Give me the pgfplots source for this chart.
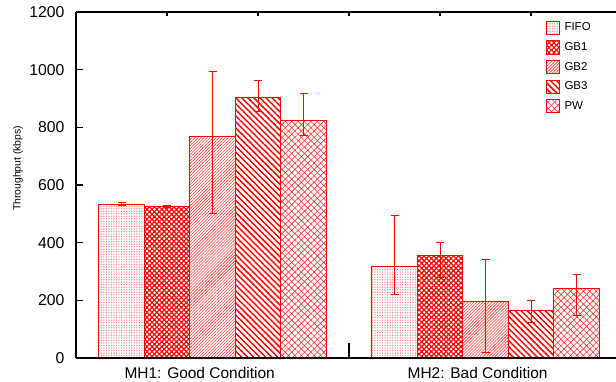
\documentclass[border=0pt]{standalone}
\usepackage{fontspec}
\setmainfont{Liberation Sans}
\usepackage{pgfplots}
\usepackage{pgfplotstable}
\pgfplotsset{compat=1.18}
\usetikzlibrary{patterns.meta}

\pgfplotstableread{
x y ep em
-0.33333 532 6 4
0.66667 317 176 98
}\fifo
\pgfplotstableread{
x y ep em
-0.16667 526 3 3
0.83333 356 46 78
}\gbone
\pgfplotstableread{
x y ep em
0 769 226 267
1 197 144 178
}\gbtwo
\pgfplotstableread{
x y ep em
0.16667 902 60 48
1.16667 165 34 41
}\gbthree
\pgfplotstableread{
x y ep em
0.33333 824 94 52
1.33333 240 51 93
}\pw

\begin{document}
\begin{tikzpicture}
\begin{axis}[
  name=main,
  scale only axis, width=405pt, height=259.5pt,
  xmin=-0.5, xmax=1.478, ymin=0, ymax=1200,
  axis x line=bottom, axis y line=left,
  axis line style={line width=0.8pt,-},
  tick align=inside,
  major tick length=5pt,
  xtick={-0.047,0.971},
  xticklabels={MH1: Good Condition, MH2: Bad Condition},
  x tick style={draw=none},
  ytick={0,200,...,1200},
  y tick style={line width=0.8pt, black},
  /pgf/number format/assume math mode=true,
  /pgf/number format/1000 sep={},
  yticklabel style={font=\fontsize{11.8}{14}\selectfont, inner sep=0pt, anchor=east, xshift=-8.5pt},
  xticklabel style={font=\fontsize{11.6}{14}\selectfont, inner sep=0pt, anchor=base, yshift=-15.3pt},
  ylabel={Throughput (kbps)},
  every axis y label/.style={at={(rel axis cs:0,0.548)}, xshift=-43.5pt, rotate=90, anchor=center, font=\fontsize{7.8}{9}\selectfont},
  legend image code/.code={\draw[#1] (0pt,-4.9pt) rectangle (9.8pt,4.9pt);},
  legend style={at={(rel axis cs:0.872,1)}, anchor=north west, xshift=-1pt, yshift=-6.5pt,
    draw=none, fill=none, inner sep=0pt, row sep=4.1pt, column sep=2.5pt,
    nodes={inner sep=1pt}, font=\fontsize{8.6}{10}\selectfont},
  legend cell align=left,
  every axis plot/.append style={ybar, bar width=0.16667, bar shift=0, draw=red, line width=0.75pt},
  error bars/y dir=both, error bars/y explicit,
  error bars/error bar style={red, line width=0.75pt},
  error bars/error mark options={rotate=90, mark size=3pt, red, line width=0.75pt},
]
\addplot[draw=red, pattern={Dots[distance=1.9pt, radius=0.5pt]}, pattern color=red!55]
  table[x=x, y=y, y error plus=ep, y error minus=em]{\fifo};
\addlegendentry{FIFO}
\addplot[draw=red, pattern={Hatch[angle=45, distance=2.6pt, line width=0.9pt]}, pattern color=red]
  table[x=x, y=y, y error plus=ep, y error minus=em]{\gbone};
\addlegendentry{GB1}
\addplot[draw=red, pattern={Lines[angle=45, distance=1.6pt, line width=0.45pt]}, pattern color=red!75]
  table[x=x, y=y, y error plus=ep, y error minus=em]{\gbtwo};
\addlegendentry{GB2}
\addplot[draw=red, pattern={Lines[angle=-45, distance=3.2pt, line width=1.1pt]}, pattern color=red]
  table[x=x, y=y, y error plus=ep, y error minus=em]{\gbthree};
\addlegendentry{GB3}
\addplot[draw=red, pattern={Hatch[angle=45, distance=3.4pt, line width=0.45pt]}, pattern color=red!80]
  table[x=x, y=y, y error plus=ep, y error minus=em]{\pw};
\addlegendentry{PW}
\end{axis}
\begin{axis}[
  at={(main.south west)}, anchor=south west,
  scale only axis, width=405pt, height=259.5pt,
  xmin=-0.5, xmax=1.478, ymin=0, ymax=1200,
  axis x line=top, axis y line=none,
  axis line style={line width=0.8pt,-},
  tick align=inside,
  major tick length=3pt,
  xtick={-0.16667,0.16667,0.5,0.83333,1.16667},
  xticklabels={},
  x tick style={line width=0.8pt, black},
  ytick=\empty,
]
\end{axis}
\begin{axis}[
  at={(main.south west)}, anchor=south west,
  scale only axis, width=405pt, height=259.5pt,
  xmin=-0.5, xmax=1.478, ymin=0, ymax=1200,
  axis x line=bottom, axis y line=none,
  axis line style={line width=0.8pt,-},
  tick align=inside,
  major tick length=11.5pt,
  xtick={0.5},
  xticklabels={},
  x tick style={line width=0.8pt, black},
  ytick=\empty,
]
\end{axis}
\pgfresetboundingbox
\path[use as bounding box] ([shift={(-57pt,-17.25pt)}]main.south west) rectangle ([shift={(0pt,9pt)}]main.north east);
\end{tikzpicture}
\end{document}
